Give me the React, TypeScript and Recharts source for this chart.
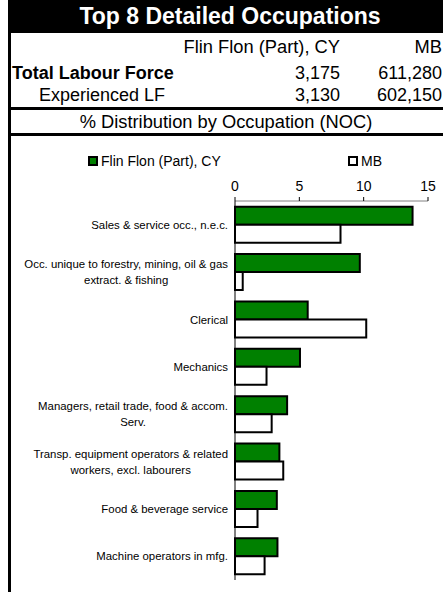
import { BarChart, Bar, XAxis, YAxis, Legend } from 'recharts'

const categories = [
    'Sales & service occ., n.e.c.',
    'Occ. unique to forestry, mining, oil & gas\nextract. & fishing',
    'Clerical',
    'Mechanics',
    'Managers, retail trade, food & accom.\nServ.',
    'Transp. equipment operators & related\nworkers, excl. labourers',
    'Food & beverage service',
    'Machine operators in mfg.',
]
const flinFlon = [13.8, 9.7, 5.65, 5.05, 4.05, 3.45, 3.25, 3.3]
const mb = [8.2, 0.6, 10.2, 2.45, 2.85, 3.75, 1.75, 2.3]
const xTicks = [0, 5, 10, 15]
const edgeTicks = [0, 1, 2, 3, 4, 5, 6, 7, 8]

const seriesNames = ['Flin Flon (Part), CY', 'MB']
const labourRows = [
    { label: 'Total Labour Force', local: '3,175', prov: '611,280', bold: true },
    { label: 'Experienced LF', local: '3,130', prov: '602,150', bold: false },
]

const data = categories.map((name, i) => ({ name, ff: flinFlon[i], mb: mb[i] }))

const FONT = "'Liberation Sans', Arial, sans-serif"
const GREEN = '#008000'

let ctx: CanvasRenderingContext2D | null = null
function measure(text: string, font: string): number {
    if (!ctx) ctx = document.createElement('canvas').getContext('2d')
    if (!ctx) return text.length * 6
    ctx.font = font
    return ctx.measureText(text).width
}

function CategoryTick(props: any) {
    const { x, y, payload } = props
    const lines = String(payload.value).split('\n')
    const font = `11.4px ${FONT}`
    const widths = lines.map((l) => measure(l, font))
    const maxW = Math.max(...widths)
    const cx = x - maxW / 2
    const y0 = y - ((lines.length - 1) * 16) / 2
    return (
        <g>
            {lines.map((l, i) => (
                <text
                    key={i}
                    x={cx}
                    y={y0 + i * 16}
                    dy="0.36em"
                    textAnchor="middle"
                    fontSize={11.4}
                    fontFamily={FONT}
                    fill="#000"
                >
                    {l}
                </text>
            ))}
        </g>
    )
}

function LegendBox() {
    const items = [
        { name: seriesNames[0], fill: GREEN, left: 76 },
        { name: seriesNames[1], fill: '#fff', left: 336 },
    ]
    return (
        <div style={{ position: 'relative', width: 431, height: 20, fontFamily: FONT, fontSize: 14 }}>
            {items.map((it) => (
                <div key={it.name} style={{ position: 'absolute', left: it.left, top: 0, height: 20, display: 'flex', alignItems: 'center' }}>
                    <span style={{ width: 6, height: 6, background: it.fill, border: '2px solid #000', marginRight: 3 }} />
                    <span>{it.name}</span>
                </div>
            ))}
        </div>
    )
}

export default function App() {
    const abs = (s: React.CSSProperties): React.CSSProperties => ({ position: 'absolute', whiteSpace: 'nowrap', ...s })
    return (
        <div style={{ position: 'absolute', left: 0, top: 0, width: 443, height: 592, overflow: 'hidden', background: '#fff', fontFamily: FONT, color: '#000' }}>
            <div style={abs({ left: 8, top: 0, width: 435, height: 33, background: '#000' })} />
            <div style={abs({ left: 8, top: 0, width: 444, height: 33, lineHeight: '33px', textAlign: 'center', color: '#fff', fontWeight: 'bold', fontSize: 23 })}>
                Top 8 Detailed Occupations
            </div>
            <div style={abs({ left: 8, top: 33, width: 3, height: 559, background: '#000' })} />

            <div style={abs({ right: 103, top: 37, fontSize: 18.3, lineHeight: '20px' })}>{seriesNames[0]}</div>
            <div style={abs({ right: 1, top: 37, fontSize: 18.3, lineHeight: '20px' })}>{seriesNames[1]}</div>
            {labourRows.map((r, i) => (
                <div key={r.label}>
                    <div style={abs({ left: r.bold ? 12 : 39, top: 63 + i * 22, fontSize: 18, lineHeight: '20px', fontWeight: r.bold ? 'bold' : 'normal' })}>{r.label}</div>
                    <div style={abs({ right: 103, top: 63 + i * 22, fontSize: 18, lineHeight: '20px' })}>{r.local}</div>
                    <div style={abs({ right: 1, top: 63 + i * 22, fontSize: 18, lineHeight: '20px' })}>{r.prov}</div>
                </div>
            ))}
            <div style={abs({ left: 8, top: 107, width: 435, height: 3, background: '#000' })} />
            <div style={abs({ left: 8, top: 111, width: 436, fontSize: 18.3, lineHeight: '22px', textAlign: 'center' })}>
                % Distribution by Occupation (NOC)
            </div>
            <div style={abs({ left: 8, top: 133, width: 435, height: 3, background: '#000' })} />

            <div style={abs({ left: 12, top: 136 })}>
                <BarChart
                    width={431}
                    height={456}
                    data={data}
                    layout="vertical"
                    margin={{ top: 25, right: 15, bottom: 12, left: 0 }}
                    barCategoryGap="12%"
                    barGap={0}
                >
                    <Legend
                        layout="horizontal"
                        verticalAlign="middle"
                        align="center"
                        wrapperStyle={{ top: 15, left: 0, width: 431, height: 20 }}
                        content={() => <LegendBox />}
                    />
                    <XAxis
                        type="number"
                        orientation="top"
                        domain={[0, 15]}
                        ticks={xTicks}
                        height={40}
                        tickSize={4}
                        tickMargin={6}
                        axisLine={{ stroke: '#808080' }}
                        tickLine={{ stroke: '#000' }}
                        tick={{ fontSize: 14, fontFamily: FONT, fill: '#000' }}
                    />
                    <YAxis
                        yAxisId="edges"
                        type="number"
                        domain={[0, 8]}
                        ticks={edgeTicks}
                        width={0}
                        tick={false}
                        axisLine={false}
                        tickSize={4}
                        tickLine={{ stroke: '#000' }}
                    />
                    <YAxis
                        type="category"
                        dataKey="name"
                        width={223}
                        tickSize={0}
                        tickMargin={7}
                        tickLine={false}
                        axisLine={{ stroke: '#000' }}
                        interval={0}
                        tick={<CategoryTick />}
                    />
                    <Bar dataKey="ff" name={seriesNames[0]} fill={GREEN} stroke="#000" strokeWidth={2} isAnimationActive={false} />
                    <Bar dataKey="mb" name={seriesNames[1]} fill="#fff" stroke="#000" strokeWidth={2} isAnimationActive={false} />
                </BarChart>
            </div>
        </div>
    )
}
